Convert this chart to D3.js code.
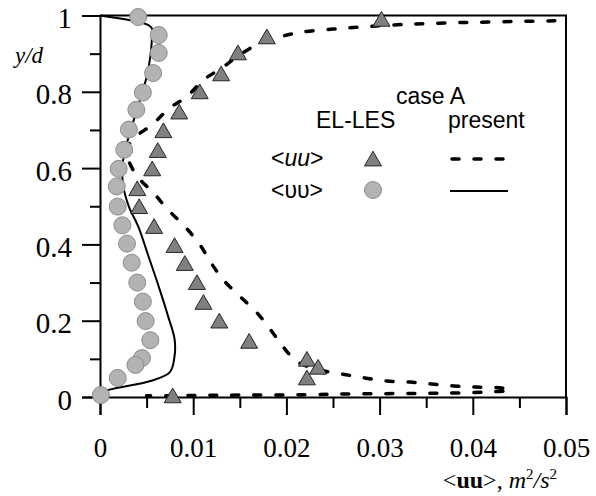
<!DOCTYPE html>
<html>
<head>
<meta charset="utf-8">
<script src="https://cdn.jsdelivr.net/npm/d3@7"></script>
<style>
  body { margin: 0; background: #fff; }
  svg { display: block; }
</style>
</head>
<body>
<div id="chart"></div>
<script>
// <uu> and <vv> profiles across the channel height, case A

// EL-LES <uu> (triangles)
const lesUuX = [0.0302, 0.0179, 0.0148, 0.0130, 0.0107, 0.0085, 0.0068, 0.0062, 0.0056, 0.0040,
                0.0042, 0.0058, 0.0080, 0.0091, 0.0104, 0.0111, 0.0128, 0.0160, 0.0222, 0.0234,
                0.0222, 0.0078];
const lesUuY = [0.990, 0.944, 0.902, 0.847, 0.800, 0.747, 0.698, 0.646, 0.598, 0.546,
                0.499, 0.447, 0.397, 0.350, 0.300, 0.248, 0.199, 0.146, 0.099, 0.078,
                0.050, 0.003];

// EL-LES <vv> (circles)
const lesVvX = [0.0041, 0.0063, 0.0063, 0.0057, 0.0046, 0.0039, 0.0031, 0.0026, 0.0020, 0.0018,
                0.0019, 0.0024, 0.0029, 0.0034, 0.0040, 0.0046, 0.0049, 0.0054, 0.0045, 0.0038,
                0.0019, 0.0001];
const lesVvY = [0.996, 0.949, 0.902, 0.849, 0.798, 0.753, 0.701, 0.648, 0.598, 0.552,
                0.499, 0.450, 0.402, 0.352, 0.300, 0.250, 0.199, 0.149, 0.102, 0.084,
                0.050, 0.005];

// present <uu> (dashed)
const presUuX = [0.0488, 0.0363, 0.0314, 0.0265, 0.0218, 0.0193, 0.0168, 0.0147, 0.0131, 0.0111,
                 0.0093, 0.0075, 0.0056, 0.0038, 0.0029, 0.0027, 0.0030, 0.0040, 0.0057, 0.0073,
                 0.0091, 0.0107, 0.0118, 0.0132, 0.0150, 0.0168, 0.0184, 0.0196, 0.0212, 0.0236,
                 0.0260, 0.0284, 0.0308, 0.0333, 0.0356, 0.0379, 0.0404, 0.0429, 0.0440, 0.0415,
                 0.0367, 0.0319, 0.0270, 0.0220, 0.0150, 0.0100, 0.0050];
const presUuY = [0.986, 0.980, 0.975, 0.967, 0.957, 0.944, 0.923, 0.892, 0.863, 0.831,
                 0.787, 0.758, 0.714, 0.682, 0.654, 0.640, 0.622, 0.578, 0.536, 0.491,
                 0.447, 0.400, 0.356, 0.308, 0.264, 0.222, 0.173, 0.133, 0.092, 0.071,
                 0.060, 0.050, 0.042, 0.039, 0.034, 0.029, 0.026, 0.024, 0.018, 0.013,
                 0.010, 0.009, 0.008, 0.006, 0.005, 0.004, 0.003];

// present <vv> (solid)
const presVvX = [0, 0.0052, 0.0056, 0.0056, 0.0054, 0.0050, 0.0043, 0.0034, 0.0027, 0.0024,
                 0.0025, 0.0031, 0.0041, 0.0052, 0.0064, 0.0073, 0.0080, 0.0080, 0.0075, 0.0054,
                 0.0003, 0];
const presVvY = [1.0, 0.975, 0.965, 0.952, 0.892, 0.839, 0.779, 0.708, 0.648, 0.604,
                 0.552, 0.499, 0.447, 0.369, 0.282, 0.212, 0.152, 0.107, 0.065, 0.042,
                 0.013, 0.003];

const xMajor = [0, 0.01, 0.02, 0.03, 0.04, 0.05];
const xMinor = [0.005, 0.015, 0.025, 0.035, 0.045];
const yMajor = [0, 0.2, 0.4, 0.6, 0.8, 1];
const yMinor = [0.1, 0.3, 0.5, 0.7, 0.9];

const width = 596, height = 496;
const margin = {left: 100, right: 30, top: 15.5, bottom: 99};

const svg = d3.select("#chart").append("svg")
    .attr("width", width)
    .attr("height", height);

let x = d3.scaleLinear().domain([0, 0.05]).range([margin.left, width - margin.right]);
let y = d3.scaleLinear().domain([0, 1]).range([height - margin.bottom, margin.top]);

const serif = "'Liberation Serif', 'Times New Roman', serif";
const sans = "'Liberation Sans', Arial, sans-serif";

// frame top and right
svg.append("path")
    .attr("d", `M${x(0)},${y(1)}H${x(0.05)}V${y(0)}`)
    .attr("fill", "none")
    .attr("stroke", "#000")
    .attr("stroke-width", 2);

// x axis
let xAxisG = svg.append("g").attr("transform", `translate(0,${y(0)})`);
xAxisG.append("g")
    .call(d3.axisBottom(x).tickValues(xMinor).tickSize(11).tickFormat(""))
    .call(g => g.select(".domain").remove());
xAxisG.append("g")
    .call(d3.axisBottom(x).tickValues(xMajor).tickSize(18)
        .tickFormat(d => d === 0 ? "0" : d3.format(".2f")(d)));
xAxisG.selectAll("text")
    .attr("y", 60).attr("dy", 0)
    .style("font-family", serif).style("font-size", "27px");

// y axis
let yAxisG = svg.append("g").attr("transform", `translate(${x(0)},0)`);
yAxisG.append("g")
    .call(d3.axisLeft(y).tickValues(yMinor).tickSize(10).tickFormat(""))
    .call(g => g.select(".domain").remove());
yAxisG.append("g")
    .call(d3.axisLeft(y).tickValues(yMajor).tickSize(18)
        .tickFormat(d => d === 0 || d === 1 ? d3.format("d")(d) : d3.format(".1f")(d)));
yAxisG.selectAll("text")
    .attr("x", -28).attr("dy", "0.42em")
    .style("font-family", serif).style("font-size", "29px");

svg.selectAll(".domain, .tick line").attr("stroke", "#000").attr("stroke-width", 2);

// axis titles
svg.append("text")
    .attr("x", 15).attr("y", 63)
    .style("font-family", serif).style("font-size", "23px").style("font-style", "italic")
    .text("y/d");

let xt = svg.append("text")
    .attr("x", 557).attr("y", 488)
    .attr("text-anchor", "end")
    .style("font-family", serif).style("font-size", "24px");
xt.append("tspan").text("<");
xt.append("tspan").style("font-weight", "bold").text("uu");
xt.append("tspan").text(">, ");
xt.append("tspan").style("font-style", "italic").text("m");
xt.append("tspan").attr("dy", -9).style("font-size", "15px").text("2");
xt.append("tspan").attr("dy", 9).style("font-style", "italic").text("/s");
xt.append("tspan").attr("dy", -9).style("font-size", "15px").text("2");

// curves
let line = d3.line()
    .x(d => x(d[0]))
    .y(d => y(d[1]))
    .curve(d3.curveCatmullRom.alpha(0.5));

let uuPts = presUuX.map((v, i) => [v, presUuY[i]]);
let vvPts = presVvX.map((v, i) => [v, presVvY[i]]);

svg.append("path")
    .datum(vvPts)
    .attr("d", line)
    .attr("fill", "none")
    .attr("stroke", "#000")
    .attr("stroke-width", 2);

svg.append("path")
    .datum(uuPts)
    .attr("d", line)
    .attr("fill", "none")
    .attr("stroke", "#000")
    .attr("stroke-width", 3.5)
    .attr("stroke-linecap", "round")
    .attr("stroke-dasharray", "7,15");

// EL-LES markers
let tri = d3.symbol().type(d3.symbolTriangle).size(125);

svg.selectAll("circle.vv")
    .data(lesVvX.map((v, i) => [v, lesVvY[i]]))
    .enter()
    .append("circle")
    .attr("class", "vv")
    .attr("cx", d => x(d[0]))
    .attr("cy", d => y(d[1]))
    .attr("r", 8.5)
    .attr("fill", "#b3b3b3")
    .attr("stroke", "#8c8c8c")
    .attr("stroke-width", 1);

svg.selectAll("path.uu")
    .data(lesUuX.map((v, i) => [v, lesUuY[i]]))
    .enter()
    .append("path")
    .attr("class", "uu")
    .attr("d", tri)
    .attr("transform", d => `translate(${x(d[0])},${y(d[1]) + 2})`)
    .attr("fill", "#808080")
    .attr("stroke", "#262626")
    .attr("stroke-width", 1);

// legend
let lg = svg.append("g").style("font-family", sans).style("font-size", "23px");
lg.append("text").attr("x", 396).attr("y", 104).text("case A");
lg.append("text").attr("x", 316).attr("y", 128).text("EL-LES");
lg.append("text").attr("x", 448).attr("y", 128).text("present");

let l1 = lg.append("text").attr("x", 271).attr("y", 166);
l1.append("tspan").text("<");
l1.append("tspan").style("font-style", "italic").text("uu");
l1.append("tspan").text(">");
lg.append("text").attr("x", 271).attr("y", 198).text("<υυ>");

lg.append("path")
    .attr("d", tri)
    .attr("transform", "translate(373,161)")
    .attr("fill", "#808080")
    .attr("stroke", "#262626")
    .attr("stroke-width", 1);
lg.append("circle")
    .attr("cx", 373).attr("cy", 190).attr("r", 8.5)
    .attr("fill", "#b3b3b3")
    .attr("stroke", "#8c8c8c");

lg.append("line")
    .attr("x1", 452).attr("x2", 505).attr("y1", 159).attr("y2", 159)
    .attr("stroke", "#000").attr("stroke-width", 3.5)
    .attr("stroke-linecap", "round")
    .attr("stroke-dasharray", "7,15");
lg.append("line")
    .attr("x1", 450).attr("x2", 508).attr("y1", 191).attr("y2", 191)
    .attr("stroke", "#000").attr("stroke-width", 2);
</script>
</body>
</html>
